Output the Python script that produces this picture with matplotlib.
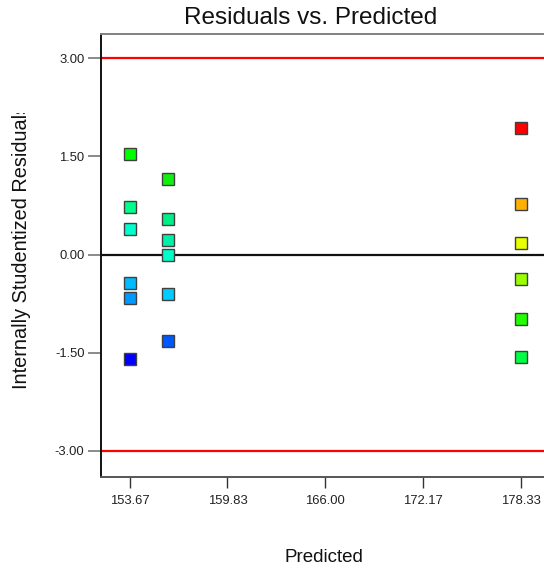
import matplotlib
matplotlib.use("Agg")
import matplotlib.pyplot as plt
from matplotlib.transforms import Bbox, TransformedBbox

plt.rcParams["font.family"] = ["Liberation Sans", "DejaVu Sans"]

# predicted value of each run and its internally studentized residual
predicted = [153.67] * 6 + [156.10] * 6 + [178.33] * 6
residuals = [1.54, 0.72, 0.39, -0.43, -0.66, -1.59,
             1.15, 0.55, 0.22, -0.01, -0.60, -1.32,
             1.94, 0.78, 0.18, -0.38, -0.98, -1.57]
point_colors = ["#00ff00", "#00ff88", "#00ffcc", "#00bbff", "#0099ff", "#0000ff",
                "#10f010", "#00ee88", "#00f0a8", "#00ffc8", "#00ccff", "#0058ff",
                "#ff0000", "#ffb000", "#e8ff00", "#99ff00", "#22ff00", "#00ff44"]

x_ticks = [153.67, 159.83, 166.00, 172.17, 178.33]
y_ticks = [-3.00, -1.50, 0.00, 1.50, 3.00]
limit = 3.00

fig = plt.figure(figsize=(5.44, 5.70), dpi=100)
ax = fig.add_axes([100.5 / 544, 1 - 476.5 / 570, 1 - 100.5 / 544, (476.5 - 34) / 570])

ax.axhline(limit, color="#ff0000", lw=1.6, zorder=2)
ax.axhline(-limit, color="#ff0000", lw=1.6, zorder=2)
ax.axhline(0, color="#111111", lw=1.6, zorder=2)

for x, y, c in zip(predicted, residuals, point_colors):
    ax.plot(x, y, marker="s", ms=8, mfc=c, mec="#404040", mew=1.0,
            ls="none", zorder=3)

ax.set_xlim(151.83, 179.79)
ax.set_ylim(-3.39, 3.37)
ax.set_xticks(x_ticks)
ax.set_xticklabels([f"{v:.2f}" for v in x_ticks])
ax.set_yticks(y_ticks)
ax.set_yticklabels([f"{v:.2f}" for v in y_ticks])
ax.tick_params(axis="y", length=9.4, width=1.2, color="#777777", pad=2.2,
               labelsize=9.4, labelcolor="#222222")
ax.tick_params(axis="x", length=8, width=1.0, color="#333333", pad=5,
               labelsize=9.4, labelcolor="#222222")

ax.spines["left"].set_color("#111111")
ax.spines["bottom"].set_color("#555555")
ax.spines["top"].set_color("#808080")
ax.spines["right"].set_visible(False)
for s in ("left", "bottom", "top"):
    ax.spines[s].set_linewidth(1.4)

fig.text(311 / 544, 1 - 18.5 / 570, "Residuals vs. Predicted",
         ha="center", va="center", fontsize=17.5, color="#111111")
fig.text(324 / 544, 1 - 557 / 570, "Predicted",
         ha="center", va="center", fontsize=13.5, color="#111111")
ylab = fig.text(22 / 544, 1 - 246 / 570, "Internally Studentized Residuals",
                ha="center", va="center", rotation=90, fontsize=14.3,
                color="#111111")
# the axis label is cut off near the top
ylab.set_clip_box(TransformedBbox(Bbox([[0, 0], [1, 1 - 113 / 570]]),
                                  fig.transFigure))
ylab.set_clip_on(True)

fig.savefig("out.png", dpi=100)
